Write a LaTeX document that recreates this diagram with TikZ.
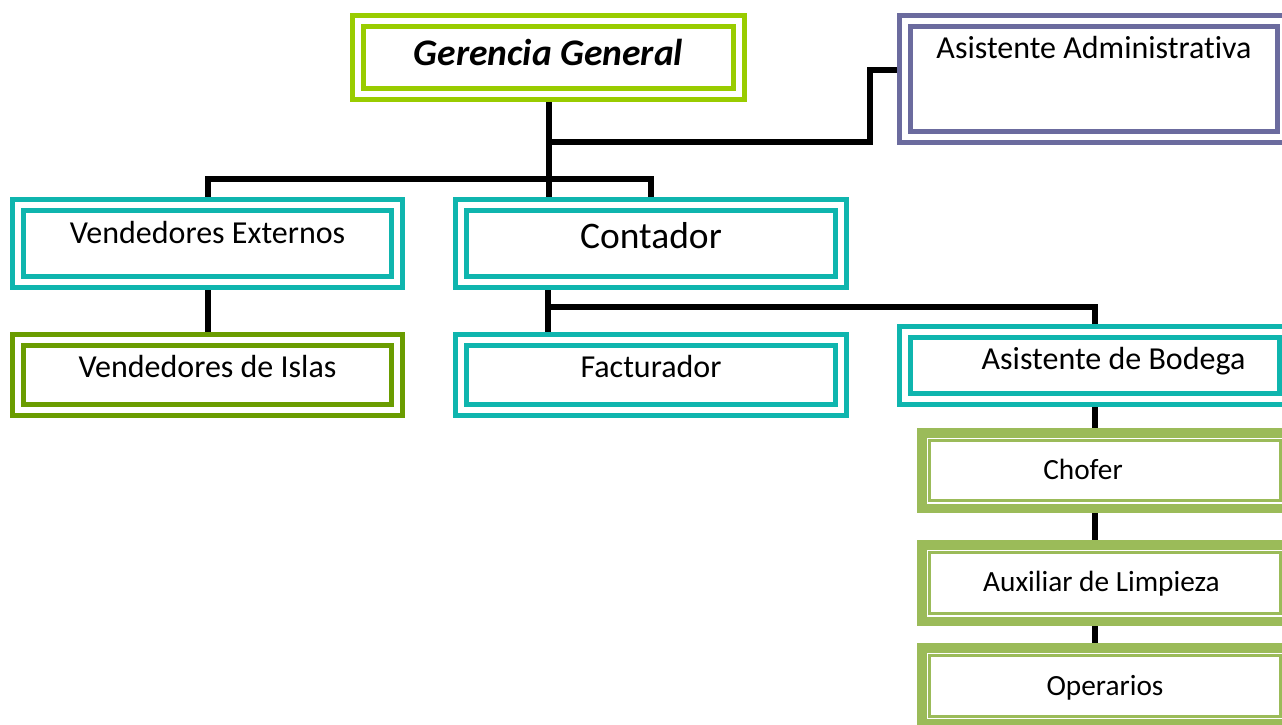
\documentclass[tikz,border=0pt]{standalone}
\usepackage{fontspec}
\setmainfont[Ligatures=NoCommon]{Carlito}
\usetikzlibrary{backgrounds}
\definecolor{limeg}{HTML}{99CC00}
\definecolor{purp}{HTML}{6B6B9E}
\definecolor{tealc}{HTML}{0FB5AE}
\definecolor{dkgreen}{HTML}{6A9C00}
\definecolor{olv}{HTML}{9BBB59}
\tikzset{
  dbox/.style={draw=#1, line width=5pt, double=white, double distance=6pt,
    fill=white, outer sep=0pt, inner sep=0pt, align=center},
  gbox/.style={draw=olv, line width=9.5pt, fill=white, outer sep=0pt,
    inner sep=0pt, minimum width=366.5pt, align=center,
    font=\fontsize{29.3pt}{35pt}\selectfont},
  txtn/.style={font=\fontsize{32pt}{38pt}\selectfont},
  txtb/.style={font=\fontsize{37.5pt}{44pt}\selectfont},
  conn/.style={draw=black, line width=6pt},
  th/.style={text height=#1, text depth=0pt}
}
\begin{document}
\begin{tikzpicture}[x=1pt,y=-1pt]
\useasboundingbox (0,0) rectangle (1282,724);
\clip (0,0) rectangle (1282,724);
% boxes
\node[dbox=limeg, txtb, minimum width=381pt, minimum height=73pt, th=15pt]
  (gg) at (548.5,57.5) {\bfseries\itshape Gerencia General};
\node[dbox=purp, txtn, minimum width=378pt, minimum height=116pt,
  text height=0pt, text depth=42pt]
  (aa) at (1094,79) {Asistente Administrativa};
\node[dbox=tealc, txtn, minimum width=379pt, minimum height=77pt, th=0pt]
  (ve) at (207.5,243.5) {Vendedores Externos};
\node[dbox=dkgreen, txtn, minimum width=379pt, minimum height=70pt, th=4pt]
  (vi) at (207.5,375) {Vendedores de Islas};
\node[dbox=tealc, txtb, minimum width=380pt, minimum height=77pt, th=9pt]
  (co) at (651,243.5) {Contador};
\node[dbox=tealc, txtn, minimum width=380pt, minimum height=70pt, th=4pt]
  (fa) at (651,375) {Facturador};
\node[dbox=tealc, txtn, minimum width=380pt, minimum height=67pt, th=7pt]
  (ab) at (1095,365.5) {\hspace*{37pt}Asistente de Bodega};
\node[gbox, minimum height=75.5pt, th=17pt] (ch) at (1105,470.5) {Chofer\hspace*{44pt}};
\node[gbox, minimum height=76.5pt, th=16pt] (au) at (1105,583) {Auxiliar de Limpieza\hspace*{7pt}};
\node[gbox, minimum height=76pt, th=18pt] (op) at (1105,686) {Operarios};
\foreach \n in {ch,au,op}
  \draw[olv, line width=2.6pt] ([shift={(7.75pt,-7.75pt)}]\n.north west)
    rectangle ([shift={(-7.75pt,7.75pt)}]\n.south east);
% connectors
\begin{scope}[on background layer]
  \coordinate (j1) at (548.5,142);
  \coordinate (j2) at (870,70);
  \draw[conn] (gg.south) -- (gg.south |- co.north);
  \draw[conn] (j1) -| (j2) -- ([yshift=9pt]aa.west);
  \draw[conn] (ve.north) |- (co.north |- 0,179) -- (co.north);
  \draw[conn] (ve.south) -- (vi.north);
  \draw[conn] ([xshift=-103pt]co.south) -- ([xshift=-103pt]fa.north);
  \draw[conn] ([xshift=-103pt]co.south) |- (ab.north |- 0,307) -- (ab.north);
  \draw[conn] (ab.south) -- (ab.south |- ch.north);
  \draw[conn] (ab.south |- ch.south) -- (ab.south |- au.north);
  \draw[conn] (ab.south |- au.south) -- (ab.south |- op.north);
\end{scope}
\end{tikzpicture}
\end{document}
